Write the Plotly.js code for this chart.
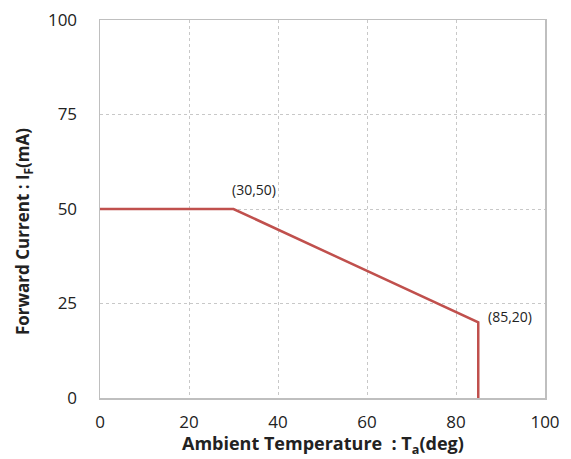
<!DOCTYPE html>
<html><head><meta charset="utf-8">
<script src="https://cdn.plot.ly/plotly-3.0.1.min.js"></script>
<style>html,body{margin:0;padding:0;background:#fff}#c{width:571px;height:459px}</style>
</head><body><div id="c"></div>
<script>
const temps = [0, 30, 85, 85];
const currents = [50, 50, 20, 0];
const xTicks = [0, 20, 40, 60, 80, 100];
const yTicks = [0, 25, 50, 75, 100];
const labelPoints = [{x: 30, y: 50, text: '(30,50)'}, {x: 85, y: 20, text: '(85,20)'}];
const xTitle = '<b>Ambient Temperature  : T<sub>a</sub>(deg)</b>';
const yTitle = '<b>Forward Current : I<sub>F</sub>(mA)</b>';

const trace = {x: temps, y: currents, mode: 'lines', line: {color: '#c0504d', width: 2.5}, hoverinfo: 'skip'};
const font = {family: 'Open Sans, Noto Sans, sans-serif', color: '#222'};
const axisCommon = {range: [0, 100], showgrid: true,
    gridcolor: '#c8c8c8', griddash: 'dot', gridwidth: 1, zeroline: false,
    showline: true, linecolor: '#bfbfbf', linewidth: 1.5, mirror: true, ticks: '',
    tickfont: {size: 17, color: '#222', family: font.family}};
const annotations = labelPoints.map((p, i) => ({x: p.x, y: p.y, text: p.text, showarrow: false,
    xanchor: i === 0 ? 'center' : 'left', yanchor: i === 0 ? 'bottom' : 'middle',
    xshift: i === 0 ? 20 : 8, yshift: i === 0 ? 8 : 6,
    font: {size: 14, color: '#222', family: font.family}}));
annotations.push({xref: 'paper', yref: 'paper', x: 0.5, y: -0.124, xanchor: 'center', yanchor: 'middle',
    text: xTitle, showarrow: false, font: {size: 18, color: '#222', family: font.family}});
annotations.push({xref: 'paper', yref: 'paper', x: -0.173, y: 0.439, xanchor: 'center', yanchor: 'middle',
    textangle: -90, text: yTitle, showarrow: false, font: {size: 17, color: '#222', family: font.family}});
const layout = {
  width: 571, height: 459,
  margin: {l: 100, r: 26, t: 20, b: 61},
  paper_bgcolor: '#fff', plot_bgcolor: '#fff',
  showlegend: false,
  font: font,
  xaxis: Object.assign({}, axisCommon, {tickvals: xTicks, ticktext: xTicks.map(String), ticklabelstandoff: 8}),
  yaxis: Object.assign({}, axisCommon, {tickvals: yTicks, ticktext: yTicks.map(String), ticklabelstandoff: 18}),
  annotations: annotations
};
Plotly.newPlot('c', [trace], layout, {displayModeBar: false, staticPlot: true});
</script></body></html>
